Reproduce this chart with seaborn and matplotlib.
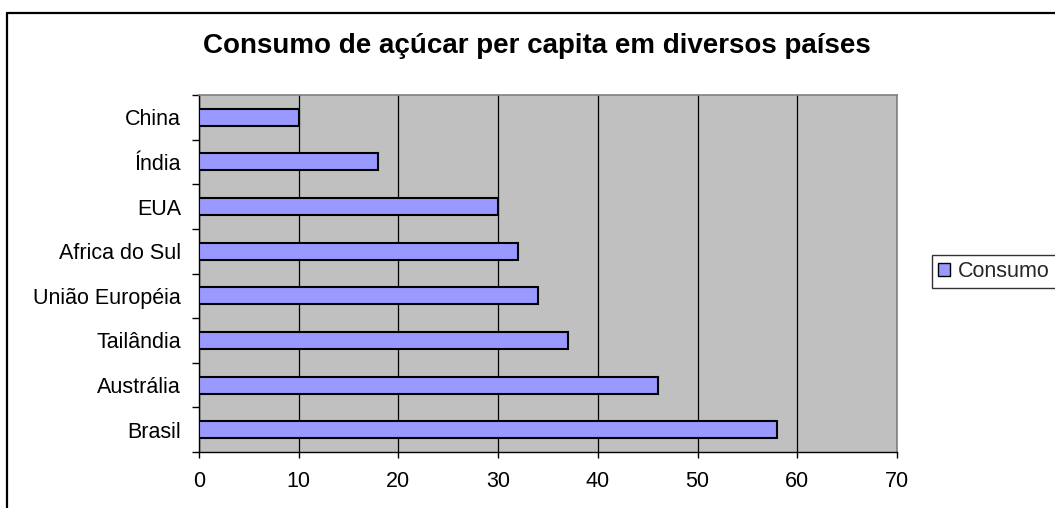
import matplotlib
matplotlib.use("Agg")
import matplotlib.pyplot as plt
from matplotlib.lines import Line2D
from matplotlib.patches import Patch
import seaborn as sns
import pandas as pd
import numpy as np

countries = ["China", "Índia", "EUA", "Africa do Sul", "União Européia",
             "Tailândia", "Austrália", "Brasil"]
consumption = [10, 18, 30, 32, 34, 37, 46, 58]
x_ticks = [0, 10, 20, 30, 40, 50, 60, 70]
series_name = "Consumo"
title = "Consumo de açúcar per capita em diversos países"

df = pd.DataFrame({"country": countries, "value": consumption})

sns.set_theme(style="white")
plt.rcParams["font.family"] = ["Liberation Sans", "DejaVu Sans"]

W, H = 1055, 508
fig = plt.figure(figsize=(W / 100, H / 100), dpi=100)
ax = fig.add_axes([199 / W, (H - 452) / H, 698 / W, 357 / H])

bar_color = "#9999FF"
sns.barplot(data=df, x="value", y="country", order=countries, orient="h",
            color=bar_color, edgecolor="black", linewidth=1.5, width=0.38,
            saturation=1, ax=ax, zorder=3)

ax.set_facecolor("#C0C0C0")
ax.set_xlim(0, 70)
ax.set_ylim(len(countries) - 0.5, -0.5)
ax.set_xticks(x_ticks)
ax.set_xticklabels([str(t) for t in x_ticks], fontsize=15.5, color="black")
ax.tick_params(axis="x", direction="out", length=4.5, width=1, color="black",
               bottom=True, pad=9)
ax.grid(axis="x", color="black", linewidth=0.9, zorder=1)
ax.set_axisbelow(True)

# Category labels at bar centres, tick marks on the boundaries
ax.set_yticks(np.arange(len(countries)))
ax.set_yticklabels(countries, fontsize=15.5, color="black")
ax.tick_params(axis="y", which="major", length=0, pad=13)
ax.set_yticks(np.arange(len(countries) + 1) - 0.5, minor=True)
ax.tick_params(axis="y", which="minor", direction="out", length=5, width=1,
               color="black", left=True)
ax.set_xlabel("")
ax.set_ylabel("")

for side in ["top", "right"]:
    ax.spines[side].set_color("#808080")
    ax.spines[side].set_linewidth(1.2)
for side in ["left", "bottom"]:
    ax.spines[side].set_color("black")
    ax.spines[side].set_linewidth(1)

fig.text(537 / W, 1 - 53 / H, title, ha="center", va="baseline",
         fontsize=20, fontweight="bold", color="black")

handle = Patch(facecolor=bar_color, edgecolor="black", linewidth=1)
leg = fig.legend([handle], [series_name], loc="center left",
                 bbox_to_anchor=(932 / W, 1 - 271.5 / H), fontsize=15.5,
                 frameon=True, fancybox=False, shadow=False,
                 handlelength=0.55, handleheight=0.55, handletextpad=0.35,
                 borderpad=0.3, borderaxespad=0)
leg.get_frame().set_edgecolor("black")
leg.get_frame().set_linewidth(1)

# Outer chart frame (left and top edges visible)
fig.add_artist(Line2D([7 / W, 7 / W], [0, 1 - 12.5 / H],
                      transform=fig.transFigure, color="black", linewidth=1.6))
fig.add_artist(Line2D([7 / W, 1], [1 - 12.5 / H, 1 - 12.5 / H],
                      transform=fig.transFigure, color="black", linewidth=1.6))

fig.savefig("out.png", dpi=100, facecolor="white")
